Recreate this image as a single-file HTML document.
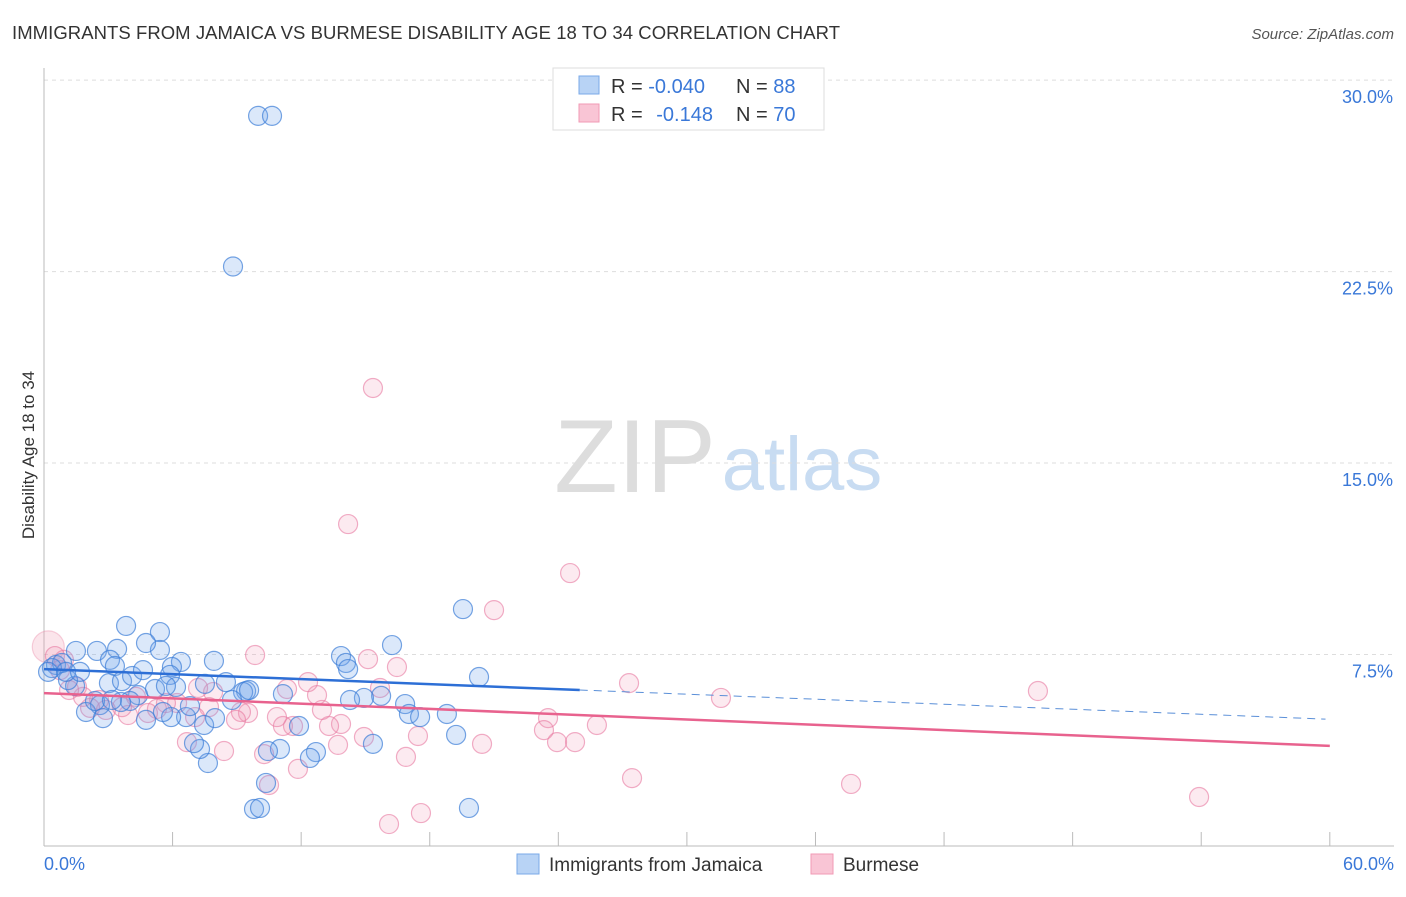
<!DOCTYPE html>
<html><head><meta charset="utf-8"><style>
body{margin:0;background:#fff;font-family:"Liberation Sans",sans-serif}
svg text{font-family:"Liberation Sans",sans-serif}
</style></head><body>
<svg id="chart" width="1406" height="892" xmlns="http://www.w3.org/2000/svg">
<text x="12" y="39" font-size="18.5" fill="#333" textLength="828">IMMIGRANTS FROM JAMAICA VS BURMESE DISABILITY AGE 18 TO 34 CORRELATION CHART</text>
<text x="1394" y="39" font-size="15" fill="#555" font-style="italic" text-anchor="end">Source: ZipAtlas.com</text>
<g>
<text x="635" y="492" font-size="104" fill="#ddd" font-family="Liberation Serif,serif" text-anchor="middle">ZIP</text>
<text x="802" y="490" font-size="76" fill="#c8dcf2" text-anchor="middle">atlas</text>
</g>
<g id="grid"></g>
<g id="axes"></g>
<g id="marks"></g>
<g id="lines"></g>
<text transform="translate(34,455) rotate(-90)" font-size="17" fill="#333" text-anchor="middle">Disability Age 18 to 34</text>
<g>
<rect x="553" y="68" width="271" height="62" fill="#fff" stroke="#ddd"/>
<rect x="579" y="76" width="20" height="18" fill="#b8d3f5" stroke="#7aaae8"/>
<rect x="579" y="104" width="20" height="18" fill="#f9c5d5" stroke="#f19ab5"/>
<text x="611" y="93" font-size="20" fill="#333">R = <tspan fill="#3a78d8">-0.040</tspan></text>
<text x="736" y="93" font-size="20" fill="#333">N = <tspan fill="#3a78d8">88</tspan></text>
<text x="611" y="121" font-size="20" fill="#333">R = <tspan fill="#3a78d8" dx="8">-0.148</tspan></text>
<text x="736" y="121" font-size="20" fill="#333">N = <tspan fill="#3a78d8">70</tspan></text>
</g>
<g>
<rect x="517" y="854" width="22" height="20" fill="#b8d3f5" stroke="#7aaae8"/>
<text x="549" y="871" font-size="19" fill="#333">Immigrants from Jamaica</text>
<rect x="811" y="854" width="22" height="20" fill="#f9c5d5" stroke="#f19ab5"/>
<text x="843" y="871" font-size="19" fill="#333">Burmese</text>
</g>
</svg>
<script>
const yTicks=[7.5,15,22.5,30];
const yTickLabels=["7.5%","15.0%","22.5%","30.0%"];
const xTickVals=[0,6,12,18,24,30,36,42,48,54,60];
const xEndLabels=["0.0%","60.0%"];
const blueX=[9.99,10.64,8.82,19.55,20.3,19.83,19.23,18.8,16.24,13.86,14.09,14.19,15.73,14.93,16.85,17.03,15.35,12.69,12.41,11.9,11.01,10.45,10.36,9.8,10.08,9.43,9.29,8.77,8.49,7.93,7.51,7.47,7.65,7.28,7.0,6.39,5.97,5.88,6.16,6.63,5.93,5.41,5.41,4.76,3.83,3.41,2.47,1.49,3.08,3.31,3.03,3.64,4.11,4.39,4.62,5.18,5.69,4.76,4.01,3.59,2.61,2.75,1.96,1.45,1.12,0.56,0.84,0.37,0.19,1.03,1.68,2.38,3.17,5.55,6.81,7.98,9.57,11.15,14.28,17.55];
const blueY=[28.6,28.6,22.7,9.28,6.62,1.49,4.35,5.17,7.87,7.44,7.17,6.93,5.88,5.8,5.56,5.17,4.0,3.68,3.45,4.7,3.8,3.72,2.47,1.45,1.49,6.07,6.03,5.72,6.42,7.25,6.35,4.74,3.25,3.8,4.03,7.21,7.01,6.7,6.23,5.05,5.05,8.38,7.68,7.95,8.62,7.72,7.64,7.64,7.29,7.05,6.38,6.46,6.66,5.91,6.89,6.15,6.27,4.94,5.68,5.64,5.52,5.01,5.25,6.27,6.5,7.09,7.17,6.97,6.82,6.82,6.82,5.68,5.72,5.25,5.48,5.01,6.11,5.95,5.72,5.05];
const pinkX=[15.35,14.19,24.55,21.0,27.3,31.59,46.38,37.66,53.9,27.44,25.8,23.52,23.33,23.94,24.78,20.44,17.45,16.89,17.59,16.1,15.68,15.12,16.47,14.93,13.72,13.86,13.3,12.97,12.74,12.32,11.85,11.34,11.62,11.15,10.87,10.5,9.85,10.27,9.52,9.19,8.96,8.4,7.89,7.7,7.19,7.05,6.67,6.21,5.69,5.27,4.85,4.29,3.92,3.64,2.89,2.57,2.15,1.82,1.54,1.17,0.75,0.93,0.51];
const pinkY=[17.94,12.61,10.69,9.24,6.38,5.8,6.07,2.43,1.92,2.66,4.74,5.01,4.54,4.07,4.07,4.0,4.31,3.49,1.29,0.86,6.19,7.32,7.01,4.27,3.96,4.78,4.7,5.33,5.91,6.42,3.02,6.15,4.7,4.7,5.05,2.39,7.48,3.6,5.21,5.25,4.94,3.72,6.03,5.44,6.19,5.05,4.07,5.6,5.6,5.37,5.21,5.84,5.13,5.44,5.33,5.72,5.41,5.84,6.23,6.11,6.89,7.29,7.44];
const bigPink=[0.2,7.8];
const blueTrend=[[0,6.93],[25,6.11],[59.8,4.97]];
const pinkTrend=[[0,5.99],[60,3.92]];

const X=v=>44+v*21.43, Y=v=>846-v*25.53;
const NS="http://www.w3.org/2000/svg";
function mk(tag,attrs,parent){const e=document.createElementNS(NS,tag);for(const k in attrs)e.setAttribute(k,attrs[k]);document.getElementById(parent).appendChild(e);return e;}
yTicks.forEach((t,i)=>{
 const g=mk('line',{x1:44,x2:1394,y1:Y(t),y2:Y(t),stroke:'#ddd','stroke-dasharray':'4,4'},'grid');
 
 
 const l=mk('text',{x:1393,y:Y(t)+23,'font-size':18,fill:'#3a78d8','text-anchor':'end'},'grid');
 l.textContent=yTickLabels[i];
 
 
});
const ya=mk('line',{x1:44,x2:44,y1:68,y2:846,stroke:'#bbb'},'axes');


const xa=mk('line',{x1:44,x2:1394,y1:846,y2:846,stroke:'#bbb'},'axes');


xTickVals.forEach(t=>{
 const tk=mk('line',{x1:X(t),x2:X(t),y1:832,y2:846,stroke:'#bbb'},'axes');
 
 
});
[[0,'start',44],[60,'end',1394]].forEach((d,i)=>{
 const t=mk('text',{x:d[2],y:870,'font-size':18,fill:'#3a78d8','text-anchor':d[1]},'axes');
 t.textContent=xEndLabels[i];
 
 
});
function dot(x,y,r,fill,stroke,name){
 const c=mk('circle',{cx:X(x),cy:Y(y),r:r,fill:fill,stroke:stroke,'stroke-width':1.2},'marks');
 
 
}
dot(bigPink[0],bigPink[1],16,'rgba(240,150,175,0.25)','rgba(235,140,170,0.4)','burmese-point');
pinkX.forEach((x,i)=>dot(x,pinkY[i],9.5,'rgba(240,150,180,0.2)','rgba(232,120,160,0.6)','burmese-point'));
blueX.forEach((x,i)=>dot(x,blueY[i],9.5,'rgba(110,165,235,0.25)','rgba(60,125,215,0.7)','jamaica-point'));
const b1=mk('line',{x1:X(blueTrend[0][0]),y1:Y(blueTrend[0][1]),x2:X(blueTrend[1][0]),y2:Y(blueTrend[1][1]),stroke:'#2d6fd6','stroke-width':2.5},'lines');


const b2=mk('line',{x1:X(blueTrend[1][0]),y1:Y(blueTrend[1][1]),x2:X(blueTrend[2][0]),y2:Y(blueTrend[2][1]),stroke:'#5a8fd8','stroke-width':1,'stroke-dasharray':'8,6'},'lines');


const p1=mk('line',{x1:X(pinkTrend[0][0]),y1:Y(pinkTrend[0][1]),x2:X(pinkTrend[1][0]),y2:Y(pinkTrend[1][1]),stroke:'#e8628e','stroke-width':2.5},'lines');


</script>
</body></html>
